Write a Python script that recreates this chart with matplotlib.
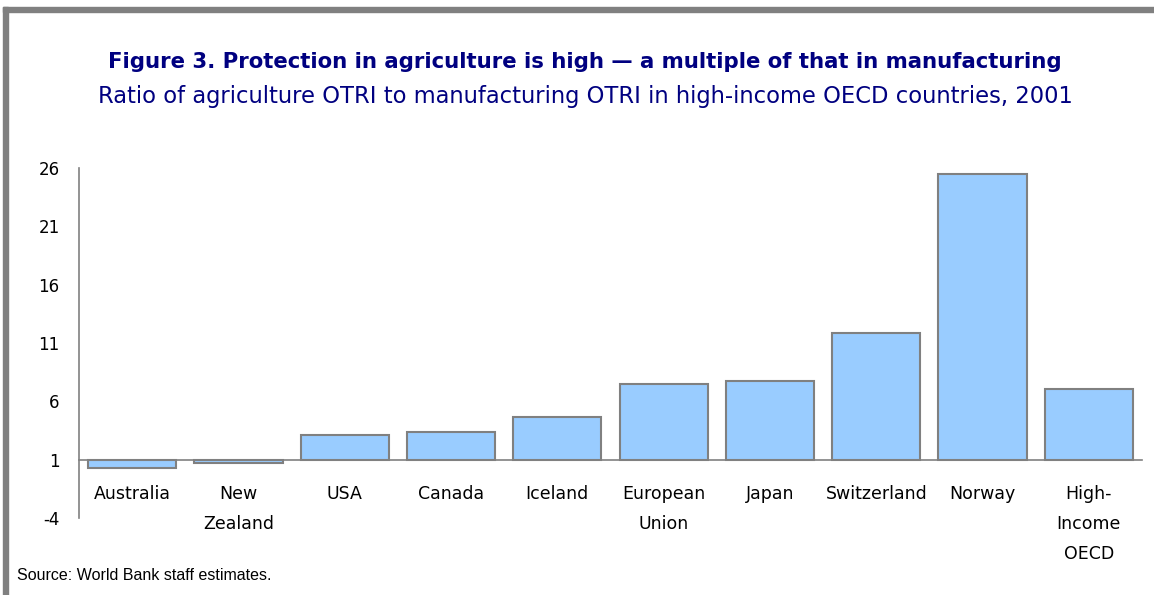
import matplotlib.pyplot as plt
from matplotlib.patches import Rectangle

categories = ["Australia", "New\nZealand", "USA", "Canada", "Iceland",
              "European\nUnion", "Japan", "Switzerland", "Norway",
              "High-\nIncome\nOECD"]
ratio = [0.25, 0.75, 3.1, 3.37, 4.66, 7.49, 7.77, 11.88, 25.5, 7.08]
y_ticks = [-4, 1, 6, 11, 16, 21, 26]
baseline = 1

title = "Figure 3. Protection in agriculture is high \u2014 a multiple of that in manufacturing"
subtitle = "Ratio of agriculture OTRI to manufacturing OTRI in high-income OECD countries, 2001"
source = "Source: World Bank staff estimates."

navy = "#000080"
grey = "#808080"

fig = plt.figure(figsize=(11.54, 5.95), dpi=100)
ax = fig.add_axes([79 / 1154, 1 - 518 / 595, (1142 - 79) / 1154, 350 / 595])

x = list(range(len(categories)))
ax.bar(x, [v - baseline for v in ratio], bottom=baseline, width=0.83,
       color="#99CCFF", edgecolor=grey, linewidth=1.5, zorder=3)

ax.set_xlim(-0.5, len(categories) - 0.5)
ax.set_ylim(-4, 26)
ax.tick_params(axis="y", length=0, pad=14, labelsize=12)
ax.set_yticks(y_ticks)
ax.set_yticklabels([str(t) for t in y_ticks])
ax.set_xticks([])

# category labels hang below the axis line at y = 1
for i, name in zip(x, categories):
    ax.annotate(name, xy=(i, baseline), xytext=(0, -25),
                textcoords="offset pixels", ha="center", va="top",
                fontsize=12.5, linespacing=1.88)

for side in ["top", "right"]:
    ax.spines[side].set_visible(False)
ax.spines["left"].set_color(grey)
ax.spines["bottom"].set_color(grey)
ax.spines["bottom"].set_position(("data", baseline))
ax.spines["left"].set_linewidth(1.2)
ax.spines["bottom"].set_linewidth(1.2)

fig.text(0.507, 1 - 62 / 595, title, ha="center", va="center",
         fontsize=15.3, fontweight="bold", color=navy)
fig.text(0.507, 1 - 97 / 595, subtitle, ha="center", va="center",
         fontsize=16.3, color=navy)
fig.text(17 / 1154, 1 - 575 / 595, source, ha="left", va="center",
         fontsize=11.5, family="Liberation Sans")

# grey frame on the top and left edges
fig.patches.append(Rectangle((3 / 1154, 0), 5 / 1154, 1 - 7 / 595,
                             transform=fig.transFigure, color=grey))
fig.patches.append(Rectangle((3 / 1154, 1 - 12 / 595), 1, 5 / 595,
                             transform=fig.transFigure, color=grey))

fig.savefig("out.png", dpi=100)
